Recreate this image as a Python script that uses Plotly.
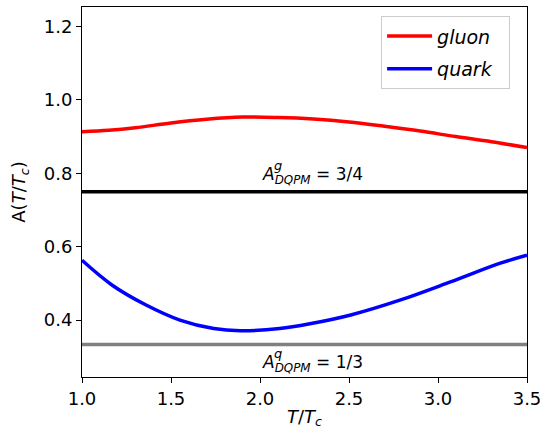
import plotly.graph_objects as go

T_gluon = [1.0, 1.15, 1.3, 1.5, 1.7, 1.9, 2.1, 2.3, 2.5, 2.7, 2.9, 3.1, 3.3, 3.5]
A_gluon = [0.913, 0.917, 0.924, 0.937, 0.947, 0.953, 0.952, 0.948, 0.940, 0.928, 0.915, 0.900, 0.886, 0.870]
T_quark = [1.0, 1.17, 1.36, 1.55, 1.74, 1.89, 2.11, 2.28, 2.51, 2.79, 3.07, 3.35, 3.5]
A_quark = [0.563, 0.495, 0.441, 0.400, 0.377, 0.371, 0.377, 0.390, 0.414, 0.455, 0.504, 0.555, 0.577]
A_gluon_dqpm = 0.75
A_quark_dqpm = 1/3
x_range = [1.0, 3.5]
y_range = [0.245, 1.253]
x_ticks = [1.0, 1.5, 2.0, 2.5, 3.0, 3.5]
y_ticks = [0.4, 0.6, 0.8, 1.0, 1.2]

font = "DejaVu Sans"
fig = go.Figure()
fig.add_trace(go.Scatter(x=T_gluon, y=A_gluon, mode="lines", line=dict(color="red", width=3.5, shape="spline", smoothing=1.0),
                         name="<i>gluon</i>  ", legendgroup="g"))
fig.add_trace(go.Scatter(x=T_quark, y=A_quark, mode="lines", line=dict(color="blue", width=3.5, shape="spline", smoothing=1.0),
                         name="<i>quark</i>  ", legendgroup="q"))
fig.add_trace(go.Scatter(x=x_range, y=[A_gluon_dqpm]*2, mode="lines", line=dict(color="black", width=3.5), showlegend=False))
fig.add_trace(go.Scatter(x=x_range, y=[A_quark_dqpm]*2, mode="lines", line=dict(color="gray", width=3.5), showlegend=False))

x_lab = 2.0
fig.add_annotation(x=x_lab, y=A_gluon_dqpm, yshift=16, xanchor="left", xref="x", yref="y", showarrow=False,
                   text="<i>A</i><sub><i>DQPM</i></sub> = 3/4", font=dict(family=font, size=17, color="black"))
fig.add_annotation(x=x_lab, y=A_gluon_dqpm, yshift=26, xshift=12, xanchor="left", xref="x", yref="y", showarrow=False,
                   text="<i>g</i>", font=dict(family=font, size=13, color="black"))
fig.add_annotation(x=x_lab, y=A_quark_dqpm, yshift=-19, xanchor="left", xref="x", yref="y", showarrow=False,
                   text="<i>A</i><sub><i>DQPM</i></sub> = 1/3", font=dict(family=font, size=17, color="black"))
fig.add_annotation(x=x_lab, y=A_quark_dqpm, yshift=-9, xshift=12, xanchor="left", xref="x", yref="y", showarrow=False,
                   text="<i>q</i>", font=dict(family=font, size=13, color="black"))

axis_common = dict(showline=True, mirror=True, linecolor="black", linewidth=1, ticks="outside",
                   ticklen=5, tickcolor="black", showgrid=False, zeroline=False, automargin=False,
                   tickfont=dict(family=font, size=18, color="black"))
fig.update_xaxes(range=x_range, tickvals=x_ticks, tickformat=".1f",
                 title=dict(text="<i>T</i>/<i>T</i><sub><i>c</i></sub>", font=dict(family=font, size=18, color="black"), standoff=2),
                 **axis_common)
fig.update_yaxes(range=y_range, tickvals=y_ticks, tickformat=".1f",
                 title=dict(text="A(<i>T</i>/<i>T</i><sub><i>c</i></sub>)", font=dict(family=font, size=18, color="black"), standoff=13),
                 **axis_common)
fig.update_layout(width=542, height=431, margin=dict(l=82, r=15, t=7, b=54),
                  plot_bgcolor="white", paper_bgcolor="white",
                  font=dict(family=font, size=18, color="black"),
                  legend=dict(x=0.962, y=0.975, xanchor="right", yanchor="top", bgcolor="white",
                              bordercolor="#cccccc", borderwidth=1, tracegroupgap=5, itemwidth=45,
                              font=dict(family=font, size=19)))
fig.write_html("out.html")
